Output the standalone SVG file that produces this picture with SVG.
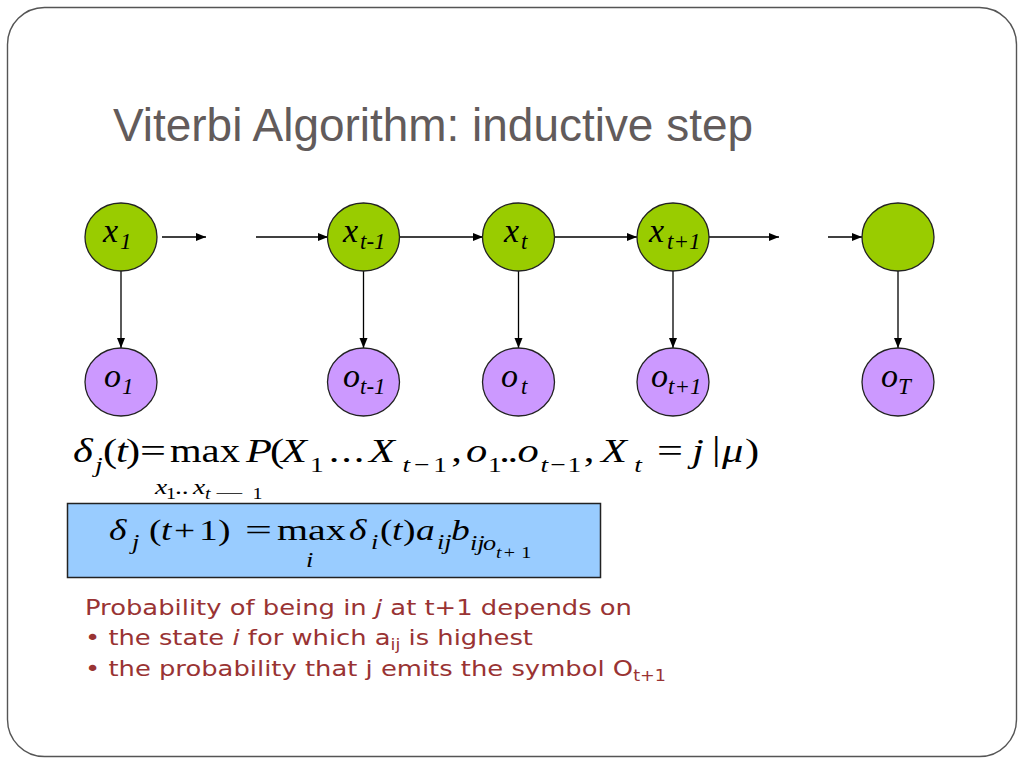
<svg xmlns="http://www.w3.org/2000/svg" width="1024" height="768" viewBox="0 0 1024 768">
<style>
.st{fill:#99CC00;stroke:#222;stroke-width:1.3}
.ob{fill:#CC99FF;stroke:#222;stroke-width:1.3}
.lbl{font-family:"Liberation Serif","Times New Roman",serif;font-style:italic;fill:#000}
.big{font-size:34px}
.sub{font-size:23px}
.f1{font-family:"Liberation Serif","Times New Roman",serif;font-size:34px;fill:#000}
.s1{font-family:"Liberation Serif","Times New Roman",serif;font-size:22px;fill:#000}
.u{font-family:"Liberation Serif","Times New Roman",serif;font-size:16px;fill:#000}
.f2{font-family:"Liberation Serif","Times New Roman",serif;font-size:30px;fill:#000}
.s2{font-family:"Liberation Serif","Times New Roman",serif;font-size:21px;fill:#000}
.it{font-style:italic}
.body{font-family:"DejaVu Sans",Verdana,sans-serif;font-size:22px;fill:#993333}
.conn line{stroke:#000;stroke-width:1.3;marker-end:url(#ah)}
</style>
<defs>
<marker id="ah" markerUnits="userSpaceOnUse" markerWidth="11" markerHeight="9" refX="10" refY="4" orient="auto">
<path d="M0,0 L10,4 L0,8 z" fill="#000"/>
</marker>
</defs>
<rect x="0" y="0" width="1024" height="768" fill="#fff"/>
<rect x="7.5" y="7.5" width="1009" height="749" rx="37" ry="37" fill="none" stroke="#555" stroke-width="1.4"/>
<text x="113" y="141" font-family="'Liberation Sans Narrow','Liberation Sans',sans-serif" font-size="46" fill="#625b5b" textLength="640" lengthAdjust="spacingAndGlyphs">Viterbi Algorithm: inductive step</text>

<g class="conn">
<line x1="162" y1="237" x2="206" y2="237"/>
<line x1="256" y1="237" x2="328" y2="237"/>
<line x1="399" y1="237" x2="483" y2="237"/>
<line x1="554" y1="237" x2="637" y2="237"/>
<line x1="709" y1="237" x2="779" y2="237"/>
<line x1="828" y1="237" x2="862" y2="237"/>
<line x1="121" y1="271" x2="121" y2="348"/>
<line x1="363.5" y1="271" x2="363.5" y2="348"/>
<line x1="518.5" y1="271" x2="518.5" y2="348"/>
<line x1="673" y1="271" x2="673" y2="348"/>
<line x1="898" y1="271" x2="898" y2="348"/>
</g>

<g id="x1"><ellipse class="st" cx="121" cy="237" rx="36" ry="34"/><text class="lbl big" x="103" y="242">x</text><text class="lbl sub" x="120" y="249">1</text></g>
<g id="xt-1"><ellipse class="st" cx="363.5" cy="237" rx="36" ry="34"/><text class="lbl big" x="343" y="242">x</text><text class="lbl sub" x="360" y="249">t-1</text></g>
<g id="xt"><ellipse class="st" cx="518.5" cy="237" rx="36" ry="34"/><text class="lbl big" x="504" y="242">x</text><text class="lbl sub" x="521" y="249">t</text></g>
<g id="xt+1"><ellipse class="st" cx="673" cy="237" rx="36" ry="34"/><text class="lbl big" x="649" y="242">x</text><text class="lbl sub" x="667" y="249">t+1</text></g>
<g id="xT"><ellipse class="st" cx="898" cy="237" rx="36" ry="34"/></g>

<g id="o1"><ellipse class="ob" cx="121" cy="382" rx="36" ry="34"/><text class="lbl big" x="104" y="387">o</text><text class="lbl sub" x="122" y="394">1</text></g>
<g id="ot-1"><ellipse class="ob" cx="363.5" cy="382" rx="36" ry="34"/><text class="lbl big" x="343" y="387">o</text><text class="lbl sub" x="360" y="394">t-1</text></g>
<g id="ot"><ellipse class="ob" cx="518.5" cy="382" rx="36" ry="34"/><text class="lbl big" x="501" y="387">o</text><text class="lbl sub" x="521" y="394">t</text></g>
<g id="ot+1"><ellipse class="ob" cx="673" cy="382" rx="36" ry="34"/><text class="lbl big" x="651" y="387">o</text><text class="lbl sub" x="668" y="394">t+1</text></g>
<g id="oT"><ellipse class="ob" cx="898" cy="382" rx="36" ry="34"/><text class="lbl big" x="881" y="387">o</text><text class="lbl sub" x="898" y="394">T</text></g>

<g id="formula1" transform="scale(1.25,1)">
<text class="f1 it" x="58.4" y="462">δ</text>
<text class="s1 it" x="76" y="472">j</text>
<text class="f1" x="82.4" y="462">(</text>
<text class="f1 it" x="92.8" y="462">t</text>
<text class="f1" x="100.8" y="462">)</text>
<text class="f1" x="112" y="462" textLength="20.8" lengthAdjust="spacingAndGlyphs">=</text>
<text class="f1" x="136" y="462" textLength="56" lengthAdjust="spacingAndGlyphs">max</text>
<text class="f1 it" x="196.8" y="462">P</text>
<text class="f1" x="216" y="462">(</text>
<text class="f1 it" x="224.8" y="462">X</text>
<text class="s1" x="248" y="472">1</text>
<text class="f1" x="263" y="462" letter-spacing="1.5">...</text>
<text class="f1 it" x="295.2" y="462">X</text>
<text class="s1" x="322" y="472" letter-spacing="3"><tspan class="it">t</tspan>−1</text>
<text class="f1" x="361" y="462">,</text>
<text class="f1 it" x="372.8" y="462">o</text>
<text class="s1" x="390.4" y="472">1</text>
<text class="f1" x="399.5" y="462" letter-spacing="-2">..</text>
<text class="f1 it" x="414" y="462">o</text>
<text class="s1" x="432.5" y="472" letter-spacing="1.5"><tspan class="it">t</tspan>−1</text>
<text class="f1" x="467" y="462">,</text>
<text class="f1 it" x="480.8" y="462">X</text>
<text class="s1 it" x="507.5" y="472">t</text>
<text class="f1" x="525.6" y="462" textLength="20.8" lengthAdjust="spacingAndGlyphs">=</text>
<text class="f1 it" x="553.6" y="462">j</text>
<text class="f1" x="569.6" y="460" font-size="26">|</text>
<text class="f1 it" x="577.6" y="462">μ</text>
<text class="f1" x="596" y="462">)</text>
<text class="s1 it" x="124" y="494">x</text>
<text class="u" x="132.8" y="499" font-size="15">1</text>
<text class="s1" x="140" y="494">..</text>
<text class="s1 it" x="154.4" y="494">x</text>
<text class="u it" x="164" y="499">t</text>
<text class="u" x="171" y="499" textLength="25" lengthAdjust="spacingAndGlyphs">−</text>
<text class="u" x="202" y="499">1</text>
</g>

<g id="formula2">
<rect x="67.5" y="503.5" width="533" height="74" fill="#99CCFF" stroke="#222" stroke-width="1.5"/>
<g transform="scale(1.25,1)">
<text class="f2 it" x="87.2" y="540">δ</text>
<text class="s2 it" x="105.6" y="549">j</text>
<text class="f2" x="119.2" y="540">(</text>
<text class="f2 it" x="128.8" y="540">t</text>
<text class="f2" x="139.2" y="540">+</text>
<text class="f2" x="159.2" y="540">1</text>
<text class="f2" x="174.4" y="540">)</text>
<text class="f2" x="196" y="540" textLength="21.6" lengthAdjust="spacingAndGlyphs">=</text>
<text class="f2" x="221.6" y="540" textLength="55" lengthAdjust="spacingAndGlyphs">max</text>
<text class="s2 it" x="244.8" y="567" font-size="23">i</text>
<text class="f2 it" x="279.2" y="540">δ</text>
<text class="s2 it" x="296.8" y="549">i</text>
<text class="f2" x="304" y="540">(</text>
<text class="f2 it" x="313.6" y="540">t</text>
<text class="f2" x="322.4" y="540">)</text>
<text class="f2 it" x="332.8" y="540">a</text>
<text class="s2 it" x="349.6" y="549">ij</text>
<text class="f2 it" x="360.8" y="540">b</text>
<text class="s2 it" x="376" y="550">ij</text>
<text class="s2 it" x="386.4" y="550">o</text>
<text class="u it" x="396.8" y="558" font-size="15">t</text>
<text class="u" x="403" y="558" font-size="15">+</text>
<text class="u" x="417" y="558" font-size="15">1</text>
</g>
</g>

<g id="bullets">
<text class="body" x="85" y="615" textLength="547" lengthAdjust="spacingAndGlyphs">Probability of being in <tspan font-style="italic">j</tspan> at t+1 depends on</text>
<text class="body" x="85" y="645" textLength="448" lengthAdjust="spacingAndGlyphs">• the state <tspan font-style="italic">i</tspan> for which a<tspan font-size="15" dy="5">ij</tspan><tspan dy="-5"> is highest</tspan></text>
<text class="body" x="85" y="676" textLength="581" lengthAdjust="spacingAndGlyphs">• the probability that j emits the symbol O<tspan font-size="15" dy="5">t+1</tspan></text>
</g>
</svg>
